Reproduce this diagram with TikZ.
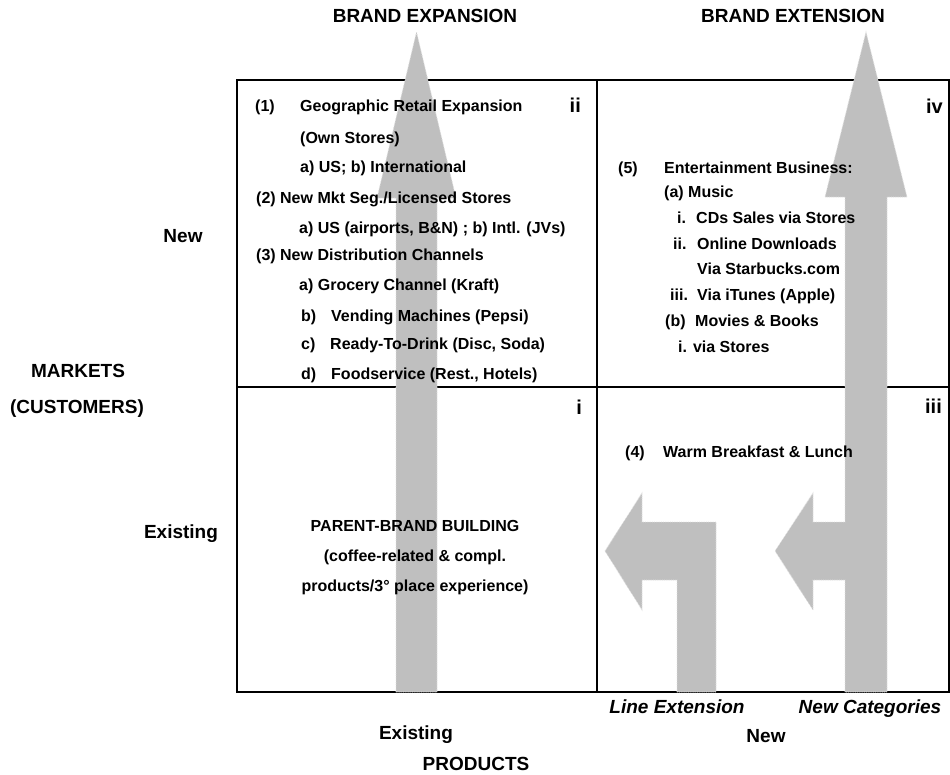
\documentclass[tikz,border=0pt]{standalone}
\usepackage{fontspec}
\setmainfont{Liberation Sans}
\begin{document}
\begin{tikzpicture}[x=1pt,y=-1pt,
  txt/.style={font=\bfseries\fontsize{16}{19}\selectfont,inner sep=0pt,anchor=base west},
  mid/.style={txt,anchor=base},
  axis/.style={font=\bfseries\fontsize{19}{22}\selectfont,inner sep=0pt,anchor=base},
  ext/.style={axis,font=\bfseries\itshape\fontsize{19}{22}\selectfont},
  quad/.style={font=\bfseries\fontsize{20}{24}\selectfont,inner sep=0pt,anchor=base east},
  boxline/.style={line width=2pt},
  bigarrow/.style={fill=gray!50,draw=gray!25,densely dotted,line width=0.8pt}]
\useasboundingbox (0,0) rectangle (950,774);
\draw[boxline] (237,80) rectangle (949,692);
\draw[boxline] (597,80) -- (597,692);
\draw[boxline] (237,387) -- (949,387);
\filldraw[bigarrow] (396,692) -- (396,198) -- (377,198) -- (416.5,32) -- (456,198) -- (437,198) -- (437,692) -- cycle;
\filldraw[bigarrow] (845,692) -- (845,580) -- (813,580) -- (813,610) -- (775,551) -- (813,493) -- (813,522) -- (845,522) -- (845,197) -- (825,197) -- (866,32) -- (907,197) -- (887,197) -- (887,692) -- cycle;
\filldraw[bigarrow] (677,692) -- (677,580) -- (642,580) -- (642,610) -- (605,551) -- (642,493) -- (642,522) -- (716,522) -- (716,692) -- cycle;
\node[axis] (hexp) at (425,22) {BRAND EXPANSION};
\node[axis] (hext) at (793,22) {BRAND EXTENSION};
\node[axis] (mnew) at (183,242) {New};
\node[axis] (mkt) at (78,377) {MARKETS};
\node[axis] (cust) at (77,413) {(CUSTOMERS)};
\node[axis] (mold) at (181,538) {Existing};
\node[axis] (pold) at (416,739) {Existing};
\node[axis] (pnew) at (766,742) {New};
\node[axis] (prod) at (476,770) {PRODUCTS};
\node[ext] (lext) at (677,713) {Line Extension};
\node[ext] (ncat) at (870,713) {New Categories};
\node[quad] (qii) at (581,112) {ii};
\node[quad] (qiv) at (943,113) {iv};
\node[quad] (qi) at (582,414) {i};
\node[quad] (qiii) at (942,413) {iii};
\node[txt] (n1) at (255,111) {(1)};
\node[txt] (geo) at (300,111) {Geographic Retail Expansion};
\node[txt] (own) at (300,143) {(Own Stores)};
\node[txt] (usint) at (300,172) {a) US; b) International};
\node[txt] (n2) at (256,203) {(2) New Mkt Seg./Licensed Stores};
\node[txt] (usair) at (299,233) {a) US (airports, B\&N) ; b) Intl. (JVs)};
\node[txt] (n3) at (256,260) {(3) New Distribution Channels};
\node[txt] (groc) at (299,290) {a) Grocery Channel (Kraft)};
\node[txt] (lb) at (301,321) {b)};
\node[txt] (vend) at (331,321) {Vending Machines (Pepsi)};
\node[txt] (lc) at (301,349) {c)};
\node[txt] (rtd) at (330,349) {Ready-To-Drink (Disc, Soda)};
\node[txt] (ld) at (301,379) {d)};
\node[txt] (food) at (331,379) {Foodservice (Rest., Hotels)};
\node[txt] (n5) at (618,173) {(5)};
\node[txt] (ent) at (664,173) {Entertainment Business:};
\node[txt] (music) at (664,197) {(a) Music};
\node[txt] (mi) at (677,223) {i.};
\node[txt] (cds) at (696,223) {CDs Sales via Stores};
\node[txt] (mii) at (673,249) {ii.};
\node[txt] (onl) at (697,249) {Online Downloads};
\node[txt] (sbx) at (697,274) {Via Starbucks.com};
\node[txt] (miii) at (670,300) {iii.};
\node[txt] (itun) at (697,300) {Via iTunes (Apple)};
\node[txt] (lbb) at (665,326) {(b)};
\node[txt] (movb) at (695,326) {Movies \& Books};
\node[txt] (vst) at (678,352) {i. via Stores};
\node[txt] (n4) at (625,457) {(4)};
\node[txt] (warm) at (663,457) {Warm Breakfast \& Lunch};
\node[mid] (pbb) at (415,531) {PARENT-BRAND BUILDING};
\node[mid] (cof) at (415,561) {(coffee-related \& compl.};
\node[mid] (plc) at (415,591) {products/3° place experience)};
\end{tikzpicture}
\end{document}
